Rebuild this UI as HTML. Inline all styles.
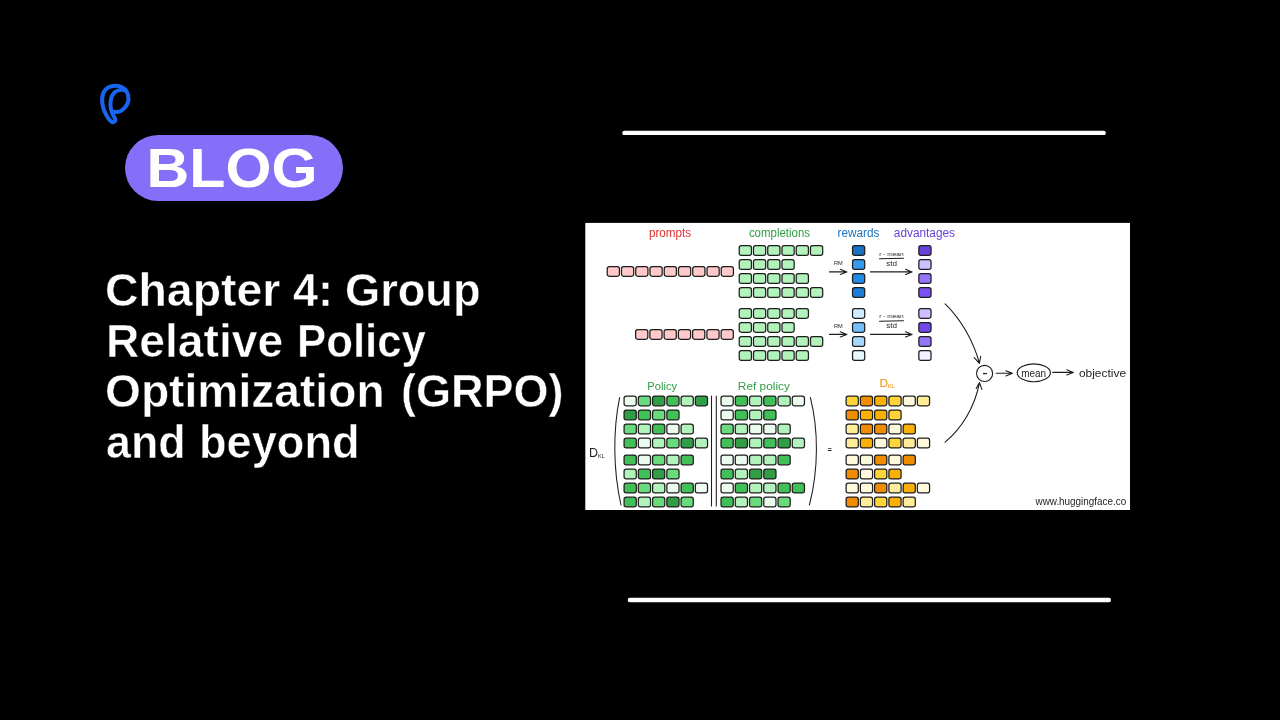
<!DOCTYPE html>
<html lang="en">
<head>
<meta charset="utf-8">
<title>Chapter 4: Group Relative Policy Optimization (GRPO) and beyond</title>
<style>
html,body{margin:0;padding:0;}
body{width:1280px;height:720px;background:#000;overflow:hidden;position:relative;font-family:"Liberation Sans",sans-serif;}
.dia{position:absolute;left:0;top:0;will-change:transform;}
.logo{position:absolute;left:93px;top:76px;}
.pill{position:absolute;left:124.8px;top:134.8px;width:218px;height:65.8px;border-radius:33px;background:#856ef8;}
.pill span{position:absolute;left:0;top:0;width:100%;text-align:center;color:#fff;font-weight:bold;font-size:54.6px;line-height:65.8px;white-space:nowrap;transform:scaleX(1.083);top:1.5px;left:-1.6px;will-change:transform;}
.hl{margin:0;will-change:transform;position:absolute;left:0;top:0;width:600px;height:500px;font-size:46px;line-height:50px;font-weight:bold;color:#fff;}
.w{position:absolute;white-space:nowrap;transform-origin:0 0;-webkit-text-stroke:0.5px #000;}
</style>
</head>
<body>
<svg class="logo" width="40" height="50" viewBox="0 0 40 50">
<path d="M21.2 35.7 C25 36.5 28 35.5 30.3 33.2 C33.5 30 35.5 27 35.5 23.2 C35.5 20 35 17.5 33.7 15.7 C31 11.5 26 9.6 21.6 9.8 C13 10.5 9.1 16 9.1 23.2 C9.1 29 10.5 34 13.25 39 C14.8 41.8 16 43.8 18.1 45.5 C20.9 47.1 23.2 45 21.9 42.3 C20 39.5 18.5 36 17.8 32.3 C17.3 29.5 17.3 27 17.8 24 C18.8 19 21.5 15.5 25.3 14.4 C28 13.5 30.5 13.5 33 15" fill="none" stroke="#1766f1" stroke-width="4" stroke-linecap="round" stroke-linejoin="round"/>
</svg>
<div class="pill"><span>BLOG</span></div>
<h1 class="hl">
<span class="w" style="left:105.2px;top:265.0px;transform:scaleX(1.0088)">Chapter</span>
<span class="w" style="left:293.1px;top:265.0px;transform:scaleX(0.9806)">4:</span>
<span class="w" style="left:345.1px;top:265.0px;transform:scaleX(0.9825)">Group</span>
<span class="w" style="left:106.0px;top:315.6px;transform:scaleX(1.0035)">Relative</span>
<span class="w" style="left:297.4px;top:315.6px;transform:scaleX(0.9515)">Policy</span>
<span class="w" style="left:105.2px;top:366.0px;transform:scaleX(1.0038)">Optimization</span>
<span class="w" style="left:400.5px;top:366.0px;transform:scaleX(0.9784)">(GRPO)</span>
<span class="w" style="left:106.2px;top:416.9px;transform:scaleX(0.9731)">and</span>
<span class="w" style="left:199.0px;top:416.9px;transform:scaleX(0.9816)">beyond</span>
</h1>
<svg class="dia" width="1280" height="720" viewBox="0 0 1280 720"><rect x="585.3" y="222.9" width="544.7" height="287.1" fill="#fff" stroke="none"/>
<g stroke="#fff" stroke-width="4.35" stroke-linecap="round"><path d="M624.4 132.93 H1103.7"/><path d="M629.9 600 H1108.9"/></g>
<g stroke="#1e1e1e" stroke-width="1.25"><rect x="607.23" y="266.52" width="12.2" height="9.75" rx="2.15" fill="#ffc9c9"/><rect x="621.48" y="266.52" width="12.2" height="9.75" rx="2.15" fill="#ffc9c9"/><rect x="635.73" y="266.52" width="12.2" height="9.75" rx="2.15" fill="#ffc9c9"/><rect x="649.98" y="266.52" width="12.2" height="9.75" rx="2.15" fill="#ffc9c9"/><rect x="664.23" y="266.52" width="12.2" height="9.75" rx="2.15" fill="#ffc9c9"/><rect x="678.48" y="266.52" width="12.2" height="9.75" rx="2.15" fill="#ffc9c9"/><rect x="692.73" y="266.52" width="12.2" height="9.75" rx="2.15" fill="#ffc9c9"/><rect x="706.98" y="266.52" width="12.2" height="9.75" rx="2.15" fill="#ffc9c9"/><rect x="721.23" y="266.52" width="12.2" height="9.75" rx="2.15" fill="#ffc9c9"/><rect x="635.62" y="329.52" width="12.2" height="9.75" rx="2.15" fill="#ffc9c9"/><rect x="649.88" y="329.52" width="12.2" height="9.75" rx="2.15" fill="#ffc9c9"/><rect x="664.12" y="329.52" width="12.2" height="9.75" rx="2.15" fill="#ffc9c9"/><rect x="678.38" y="329.52" width="12.2" height="9.75" rx="2.15" fill="#ffc9c9"/><rect x="692.62" y="329.52" width="12.2" height="9.75" rx="2.15" fill="#ffc9c9"/><rect x="706.88" y="329.52" width="12.2" height="9.75" rx="2.15" fill="#ffc9c9"/><rect x="721.12" y="329.52" width="12.2" height="9.75" rx="2.15" fill="#ffc9c9"/><rect x="739.23" y="245.62" width="12.2" height="9.75" rx="2.15" fill="#b2f2bb"/><rect x="753.48" y="245.62" width="12.2" height="9.75" rx="2.15" fill="#b2f2bb"/><rect x="767.73" y="245.62" width="12.2" height="9.75" rx="2.15" fill="#b2f2bb"/><rect x="781.98" y="245.62" width="12.2" height="9.75" rx="2.15" fill="#b2f2bb"/><rect x="796.23" y="245.62" width="12.2" height="9.75" rx="2.15" fill="#b2f2bb"/><rect x="810.48" y="245.62" width="12.2" height="9.75" rx="2.15" fill="#b2f2bb"/><rect x="739.23" y="259.62" width="12.2" height="9.75" rx="2.15" fill="#b2f2bb"/><rect x="753.48" y="259.62" width="12.2" height="9.75" rx="2.15" fill="#b2f2bb"/><rect x="767.73" y="259.62" width="12.2" height="9.75" rx="2.15" fill="#b2f2bb"/><rect x="781.98" y="259.62" width="12.2" height="9.75" rx="2.15" fill="#b2f2bb"/><rect x="739.23" y="273.73" width="12.2" height="9.75" rx="2.15" fill="#b2f2bb"/><rect x="753.48" y="273.73" width="12.2" height="9.75" rx="2.15" fill="#b2f2bb"/><rect x="767.73" y="273.73" width="12.2" height="9.75" rx="2.15" fill="#b2f2bb"/><rect x="781.98" y="273.73" width="12.2" height="9.75" rx="2.15" fill="#b2f2bb"/><rect x="796.23" y="273.73" width="12.2" height="9.75" rx="2.15" fill="#b2f2bb"/><rect x="739.23" y="287.73" width="12.2" height="9.75" rx="2.15" fill="#b2f2bb"/><rect x="753.48" y="287.73" width="12.2" height="9.75" rx="2.15" fill="#b2f2bb"/><rect x="767.73" y="287.73" width="12.2" height="9.75" rx="2.15" fill="#b2f2bb"/><rect x="781.98" y="287.73" width="12.2" height="9.75" rx="2.15" fill="#b2f2bb"/><rect x="796.23" y="287.73" width="12.2" height="9.75" rx="2.15" fill="#b2f2bb"/><rect x="810.48" y="287.73" width="12.2" height="9.75" rx="2.15" fill="#b2f2bb"/><rect x="739.23" y="308.52" width="12.2" height="9.75" rx="2.15" fill="#b2f2bb"/><rect x="753.48" y="308.52" width="12.2" height="9.75" rx="2.15" fill="#b2f2bb"/><rect x="767.73" y="308.52" width="12.2" height="9.75" rx="2.15" fill="#b2f2bb"/><rect x="781.98" y="308.52" width="12.2" height="9.75" rx="2.15" fill="#b2f2bb"/><rect x="796.23" y="308.52" width="12.2" height="9.75" rx="2.15" fill="#b2f2bb"/><rect x="739.23" y="322.52" width="12.2" height="9.75" rx="2.15" fill="#b2f2bb"/><rect x="753.48" y="322.52" width="12.2" height="9.75" rx="2.15" fill="#b2f2bb"/><rect x="767.73" y="322.52" width="12.2" height="9.75" rx="2.15" fill="#b2f2bb"/><rect x="781.98" y="322.52" width="12.2" height="9.75" rx="2.15" fill="#b2f2bb"/><rect x="739.23" y="336.62" width="12.2" height="9.75" rx="2.15" fill="#b2f2bb"/><rect x="753.48" y="336.62" width="12.2" height="9.75" rx="2.15" fill="#b2f2bb"/><rect x="767.73" y="336.62" width="12.2" height="9.75" rx="2.15" fill="#b2f2bb"/><rect x="781.98" y="336.62" width="12.2" height="9.75" rx="2.15" fill="#b2f2bb"/><rect x="796.23" y="336.62" width="12.2" height="9.75" rx="2.15" fill="#b2f2bb"/><rect x="810.48" y="336.62" width="12.2" height="9.75" rx="2.15" fill="#b2f2bb"/><rect x="739.23" y="350.73" width="12.2" height="9.75" rx="2.15" fill="#b2f2bb"/><rect x="753.48" y="350.73" width="12.2" height="9.75" rx="2.15" fill="#b2f2bb"/><rect x="767.73" y="350.73" width="12.2" height="9.75" rx="2.15" fill="#b2f2bb"/><rect x="781.98" y="350.73" width="12.2" height="9.75" rx="2.15" fill="#b2f2bb"/><rect x="796.23" y="350.73" width="12.2" height="9.75" rx="2.15" fill="#b2f2bb"/><rect x="852.52" y="245.62" width="12.2" height="9.75" rx="2.15" fill="#1971c2"/><rect x="918.83" y="245.62" width="12.2" height="9.75" rx="2.15" fill="#6741d9"/><rect x="852.52" y="259.62" width="12.2" height="9.75" rx="2.15" fill="#339af0"/><rect x="918.83" y="259.62" width="12.2" height="9.75" rx="2.15" fill="#d0bfff"/><rect x="852.52" y="273.73" width="12.2" height="9.75" rx="2.15" fill="#228be6"/><rect x="918.83" y="273.73" width="12.2" height="9.75" rx="2.15" fill="#9775fa"/><rect x="852.52" y="287.73" width="12.2" height="9.75" rx="2.15" fill="#1c7ed6"/><rect x="918.83" y="287.73" width="12.2" height="9.75" rx="2.15" fill="#7950f2"/><rect x="852.52" y="308.52" width="12.2" height="9.75" rx="2.15" fill="#d0ebff"/><rect x="918.83" y="308.52" width="12.2" height="9.75" rx="2.15" fill="#d0bfff"/><rect x="852.52" y="322.52" width="12.2" height="9.75" rx="2.15" fill="#74c0fc"/><rect x="918.83" y="322.52" width="12.2" height="9.75" rx="2.15" fill="#7048e8"/><rect x="852.52" y="336.62" width="12.2" height="9.75" rx="2.15" fill="#a5d8ff"/><rect x="918.83" y="336.62" width="12.2" height="9.75" rx="2.15" fill="#9775fa"/><rect x="852.52" y="350.73" width="12.2" height="9.75" rx="2.15" fill="#e7f5ff"/><rect x="918.83" y="350.73" width="12.2" height="9.75" rx="2.15" fill="#f3f0ff"/><rect x="624.08" y="396.02" width="12.2" height="9.75" rx="2.15" fill="#ebfbee"/><rect x="638.33" y="396.02" width="12.2" height="9.75" rx="2.15" fill="#69db7c"/><rect x="652.58" y="396.02" width="12.2" height="9.75" rx="2.15" fill="#2f9e44"/><rect x="666.83" y="396.02" width="12.2" height="9.75" rx="2.15" fill="#40c057"/><rect x="681.08" y="396.02" width="12.2" height="9.75" rx="2.15" fill="#b2f2bb"/><rect x="695.33" y="396.02" width="12.2" height="9.75" rx="2.15" fill="#2f9e44"/><rect x="721.02" y="396.02" width="12.2" height="9.75" rx="2.15" fill="#ebfbee"/><rect x="735.27" y="396.02" width="12.2" height="9.75" rx="2.15" fill="#40c057"/><rect x="749.52" y="396.02" width="12.2" height="9.75" rx="2.15" fill="#b2f2bb"/><rect x="763.77" y="396.02" width="12.2" height="9.75" rx="2.15" fill="#40c057"/><rect x="778.02" y="396.02" width="12.2" height="9.75" rx="2.15" fill="#b2f2bb"/><rect x="792.27" y="396.02" width="12.2" height="9.75" rx="2.15" fill="#ebfbee"/><rect x="846.12" y="396.02" width="12.2" height="9.75" rx="2.15" fill="#ffd43b"/><rect x="860.38" y="396.02" width="12.2" height="9.75" rx="2.15" fill="#f08c00"/><rect x="874.62" y="396.02" width="12.2" height="9.75" rx="2.15" fill="#fab005"/><rect x="888.88" y="396.02" width="12.2" height="9.75" rx="2.15" fill="#ffd43b"/><rect x="903.12" y="396.02" width="12.2" height="9.75" rx="2.15" fill="#fff9db"/><rect x="917.38" y="396.02" width="12.2" height="9.75" rx="2.15" fill="#ffec99"/><rect x="624.08" y="410.07" width="12.2" height="9.75" rx="2.15" fill="#2f9e44"/><rect x="638.33" y="410.07" width="12.2" height="9.75" rx="2.15" fill="#40c057"/><rect x="652.58" y="410.07" width="12.2" height="9.75" rx="2.15" fill="#69db7c"/><rect x="666.83" y="410.07" width="12.2" height="9.75" rx="2.15" fill="#40c057"/><rect x="721.02" y="410.07" width="12.2" height="9.75" rx="2.15" fill="#ebfbee"/><rect x="735.27" y="410.07" width="12.2" height="9.75" rx="2.15" fill="#40c057"/><rect x="749.52" y="410.07" width="12.2" height="9.75" rx="2.15" fill="#b2f2bb"/><rect x="763.77" y="410.07" width="12.2" height="9.75" rx="2.15" fill="#40c057"/><rect x="846.12" y="410.07" width="12.2" height="9.75" rx="2.15" fill="#f08c00"/><rect x="860.38" y="410.07" width="12.2" height="9.75" rx="2.15" fill="#fab005"/><rect x="874.62" y="410.07" width="12.2" height="9.75" rx="2.15" fill="#fab005"/><rect x="888.88" y="410.07" width="12.2" height="9.75" rx="2.15" fill="#ffd43b"/><rect x="624.08" y="424.12" width="12.2" height="9.75" rx="2.15" fill="#69db7c"/><rect x="638.33" y="424.12" width="12.2" height="9.75" rx="2.15" fill="#b2f2bb"/><rect x="652.58" y="424.12" width="12.2" height="9.75" rx="2.15" fill="#40c057"/><rect x="666.83" y="424.12" width="12.2" height="9.75" rx="2.15" fill="#ebfbee"/><rect x="681.08" y="424.12" width="12.2" height="9.75" rx="2.15" fill="#b2f2bb"/><rect x="721.02" y="424.12" width="12.2" height="9.75" rx="2.15" fill="#69db7c"/><rect x="735.27" y="424.12" width="12.2" height="9.75" rx="2.15" fill="#b2f2bb"/><rect x="749.52" y="424.12" width="12.2" height="9.75" rx="2.15" fill="#ebfbee"/><rect x="763.77" y="424.12" width="12.2" height="9.75" rx="2.15" fill="#ebfbee"/><rect x="778.02" y="424.12" width="12.2" height="9.75" rx="2.15" fill="#b2f2bb"/><rect x="846.12" y="424.12" width="12.2" height="9.75" rx="2.15" fill="#ffec99"/><rect x="860.38" y="424.12" width="12.2" height="9.75" rx="2.15" fill="#f08c00"/><rect x="874.62" y="424.12" width="12.2" height="9.75" rx="2.15" fill="#f08c00"/><rect x="888.88" y="424.12" width="12.2" height="9.75" rx="2.15" fill="#fff9db"/><rect x="903.12" y="424.12" width="12.2" height="9.75" rx="2.15" fill="#fab005"/><rect x="624.08" y="438.18" width="12.2" height="9.75" rx="2.15" fill="#40c057"/><rect x="638.33" y="438.18" width="12.2" height="9.75" rx="2.15" fill="#ebfbee"/><rect x="652.58" y="438.18" width="12.2" height="9.75" rx="2.15" fill="#b2f2bb"/><rect x="666.83" y="438.18" width="12.2" height="9.75" rx="2.15" fill="#69db7c"/><rect x="681.08" y="438.18" width="12.2" height="9.75" rx="2.15" fill="#2f9e44"/><rect x="695.33" y="438.18" width="12.2" height="9.75" rx="2.15" fill="#b2f2bb"/><rect x="721.02" y="438.18" width="12.2" height="9.75" rx="2.15" fill="#40c057"/><rect x="735.27" y="438.18" width="12.2" height="9.75" rx="2.15" fill="#2f9e44"/><rect x="749.52" y="438.18" width="12.2" height="9.75" rx="2.15" fill="#b2f2bb"/><rect x="763.77" y="438.18" width="12.2" height="9.75" rx="2.15" fill="#40c057"/><rect x="778.02" y="438.18" width="12.2" height="9.75" rx="2.15" fill="#2f9e44"/><rect x="792.27" y="438.18" width="12.2" height="9.75" rx="2.15" fill="#b2f2bb"/><rect x="846.12" y="438.18" width="12.2" height="9.75" rx="2.15" fill="#ffec99"/><rect x="860.38" y="438.18" width="12.2" height="9.75" rx="2.15" fill="#fab005"/><rect x="874.62" y="438.18" width="12.2" height="9.75" rx="2.15" fill="#fff9db"/><rect x="888.88" y="438.18" width="12.2" height="9.75" rx="2.15" fill="#ffd43b"/><rect x="903.12" y="438.18" width="12.2" height="9.75" rx="2.15" fill="#ffec99"/><rect x="917.38" y="438.18" width="12.2" height="9.75" rx="2.15" fill="#fff9db"/><rect x="624.08" y="455.12" width="12.2" height="9.75" rx="2.15" fill="#40c057"/><rect x="638.33" y="455.12" width="12.2" height="9.75" rx="2.15" fill="#ebfbee"/><rect x="652.58" y="455.12" width="12.2" height="9.75" rx="2.15" fill="#69db7c"/><rect x="666.83" y="455.12" width="12.2" height="9.75" rx="2.15" fill="#b2f2bb"/><rect x="681.08" y="455.12" width="12.2" height="9.75" rx="2.15" fill="#40c057"/><rect x="721.02" y="455.12" width="12.2" height="9.75" rx="2.15" fill="#ebfbee"/><rect x="735.27" y="455.12" width="12.2" height="9.75" rx="2.15" fill="#ebfbee"/><rect x="749.52" y="455.12" width="12.2" height="9.75" rx="2.15" fill="#b2f2bb"/><rect x="763.77" y="455.12" width="12.2" height="9.75" rx="2.15" fill="#b2f2bb"/><rect x="778.02" y="455.12" width="12.2" height="9.75" rx="2.15" fill="#40c057"/><rect x="846.12" y="455.12" width="12.2" height="9.75" rx="2.15" fill="#fff9db"/><rect x="860.38" y="455.12" width="12.2" height="9.75" rx="2.15" fill="#fff9db"/><rect x="874.62" y="455.12" width="12.2" height="9.75" rx="2.15" fill="#f08c00"/><rect x="888.88" y="455.12" width="12.2" height="9.75" rx="2.15" fill="#fff9db"/><rect x="903.12" y="455.12" width="12.2" height="9.75" rx="2.15" fill="#f08c00"/><rect x="624.08" y="469.18" width="12.2" height="9.75" rx="2.15" fill="#b2f2bb"/><rect x="638.33" y="469.18" width="12.2" height="9.75" rx="2.15" fill="#40c057"/><rect x="652.58" y="469.18" width="12.2" height="9.75" rx="2.15" fill="#2f9e44"/><rect x="666.83" y="469.18" width="12.2" height="9.75" rx="2.15" fill="#69db7c"/><rect x="721.02" y="469.18" width="12.2" height="9.75" rx="2.15" fill="#40c057"/><rect x="735.27" y="469.18" width="12.2" height="9.75" rx="2.15" fill="#b2f2bb"/><rect x="749.52" y="469.18" width="12.2" height="9.75" rx="2.15" fill="#2f9e44"/><rect x="763.77" y="469.18" width="12.2" height="9.75" rx="2.15" fill="#2f9e44"/><rect x="846.12" y="469.18" width="12.2" height="9.75" rx="2.15" fill="#f08c00"/><rect x="860.38" y="469.18" width="12.2" height="9.75" rx="2.15" fill="#fff9db"/><rect x="874.62" y="469.18" width="12.2" height="9.75" rx="2.15" fill="#ffd43b"/><rect x="888.88" y="469.18" width="12.2" height="9.75" rx="2.15" fill="#fab005"/><rect x="624.08" y="483.23" width="12.2" height="9.75" rx="2.15" fill="#40c057"/><rect x="638.33" y="483.23" width="12.2" height="9.75" rx="2.15" fill="#69db7c"/><rect x="652.58" y="483.23" width="12.2" height="9.75" rx="2.15" fill="#b2f2bb"/><rect x="666.83" y="483.23" width="12.2" height="9.75" rx="2.15" fill="#ebfbee"/><rect x="681.08" y="483.23" width="12.2" height="9.75" rx="2.15" fill="#40c057"/><rect x="695.33" y="483.23" width="12.2" height="9.75" rx="2.15" fill="#ebfbee"/><rect x="721.02" y="483.23" width="12.2" height="9.75" rx="2.15" fill="#ebfbee"/><rect x="735.27" y="483.23" width="12.2" height="9.75" rx="2.15" fill="#40c057"/><rect x="749.52" y="483.23" width="12.2" height="9.75" rx="2.15" fill="#b2f2bb"/><rect x="763.77" y="483.23" width="12.2" height="9.75" rx="2.15" fill="#b2f2bb"/><rect x="778.02" y="483.23" width="12.2" height="9.75" rx="2.15" fill="#40c057"/><rect x="792.27" y="483.23" width="12.2" height="9.75" rx="2.15" fill="#40c057"/><rect x="846.12" y="483.23" width="12.2" height="9.75" rx="2.15" fill="#fff9db"/><rect x="860.38" y="483.23" width="12.2" height="9.75" rx="2.15" fill="#fff9db"/><rect x="874.62" y="483.23" width="12.2" height="9.75" rx="2.15" fill="#f08c00"/><rect x="888.88" y="483.23" width="12.2" height="9.75" rx="2.15" fill="#ffec99"/><rect x="903.12" y="483.23" width="12.2" height="9.75" rx="2.15" fill="#fab005"/><rect x="917.38" y="483.23" width="12.2" height="9.75" rx="2.15" fill="#fff9db"/><rect x="624.08" y="497.23" width="12.2" height="9.75" rx="2.15" fill="#40c057"/><rect x="638.33" y="497.23" width="12.2" height="9.75" rx="2.15" fill="#b2f2bb"/><rect x="652.58" y="497.23" width="12.2" height="9.75" rx="2.15" fill="#69db7c"/><rect x="666.83" y="497.23" width="12.2" height="9.75" rx="2.15" fill="#2f9e44"/><rect x="681.08" y="497.23" width="12.2" height="9.75" rx="2.15" fill="#69db7c"/><rect x="721.02" y="497.23" width="12.2" height="9.75" rx="2.15" fill="#40c057"/><rect x="735.27" y="497.23" width="12.2" height="9.75" rx="2.15" fill="#b2f2bb"/><rect x="749.52" y="497.23" width="12.2" height="9.75" rx="2.15" fill="#69db7c"/><rect x="763.77" y="497.23" width="12.2" height="9.75" rx="2.15" fill="#ebfbee"/><rect x="778.02" y="497.23" width="12.2" height="9.75" rx="2.15" fill="#69db7c"/><rect x="846.12" y="497.23" width="12.2" height="9.75" rx="2.15" fill="#f08c00"/><rect x="860.38" y="497.23" width="12.2" height="9.75" rx="2.15" fill="#ffec99"/><rect x="874.62" y="497.23" width="12.2" height="9.75" rx="2.15" fill="#ffd43b"/><rect x="888.88" y="497.23" width="12.2" height="9.75" rx="2.15" fill="#fab005"/><rect x="903.12" y="497.23" width="12.2" height="9.75" rx="2.15" fill="#ffec99"/></g>
<g font-family="'Liberation Sans',sans-serif"><text x="648.9" y="236.6" font-size="12" fill="#e03131" textLength="42.2" lengthAdjust="spacingAndGlyphs" >prompts</text><text x="748.9" y="236.6" font-size="12" fill="#2f9e44" textLength="61.1" lengthAdjust="spacingAndGlyphs" >completions</text><text x="837.5" y="236.6" font-size="12" fill="#1971c2" textLength="41.8" lengthAdjust="spacingAndGlyphs" >rewards</text><text x="893.8" y="236.6" font-size="12" fill="#6741d9" textLength="61.2" lengthAdjust="spacingAndGlyphs" >advantages</text><text x="647.3" y="390.3" font-size="11" fill="#2f9e44" textLength="29.8" lengthAdjust="spacingAndGlyphs" >Policy</text><text x="737.8" y="390.3" font-size="11" fill="#2f9e44" textLength="52.2" lengthAdjust="spacingAndGlyphs" >Ref policy</text><text x="879.5" y="387.0" font-size="11.8" fill="#f08c00">D<tspan font-size="5.5" dy="0.8">KL</tspan></text><text x="589.0" y="456.8" font-size="12.5" fill="#1e1e1e">D<tspan font-size="5.5" dy="0.8">KL</tspan></text><text x="829.6" y="452.0" font-size="7.5" fill="#1e1e1e" text-anchor="middle" font-weight="bold">=</text><text x="834.0" y="265.4" font-size="5.4" fill="#1e1e1e" textLength="8.8" lengthAdjust="spacingAndGlyphs" >RM</text><text x="879.2" y="255.6" font-size="5.4" fill="#1e1e1e" textLength="24.4" lengthAdjust="spacingAndGlyphs" >r - mean</text><text x="886.2" y="265.8" font-size="6.4" fill="#1e1e1e" textLength="10.8" lengthAdjust="spacingAndGlyphs" >std</text><text x="834.0" y="328.0" font-size="5.4" fill="#1e1e1e" textLength="8.8" lengthAdjust="spacingAndGlyphs" >RM</text><text x="879.2" y="318.2" font-size="5.4" fill="#1e1e1e" textLength="24.4" lengthAdjust="spacingAndGlyphs" >r - mean</text><text x="886.2" y="328.40000000000003" font-size="6.4" fill="#1e1e1e" textLength="10.8" lengthAdjust="spacingAndGlyphs" >std</text><text x="984.8" y="377.9" font-size="16" fill="#1e1e1e" text-anchor="middle" >-</text><text x="1021.2" y="376.5" font-size="10" fill="#1e1e1e" textLength="24.9" lengthAdjust="spacingAndGlyphs" >mean</text><text x="1078.9" y="376.7" font-size="11.2" fill="#1e1e1e" textLength="47.2" lengthAdjust="spacingAndGlyphs" >objective</text><text x="1035.5" y="504.7" font-size="10.6" fill="#1e1e1e" textLength="90.7" lengthAdjust="spacingAndGlyphs" >www.huggingface.co</text></g>
<g fill="none" stroke="#1e1e1e" stroke-linecap="round" stroke-linejoin="round"><g stroke-width="1.1"><path d="M829.5 271.9 L846.8 271.9 M840.3 269.3 L846.8 271.9 L840.3 274.5"/><path d="M870.5 271.9 L912.0 271.9 M905.5 269.3 L912.0 271.9 L905.5 274.5"/><path d="M879.5 258.8 L903.5 258.3"/><path d="M829.5 334.4 L846.8 334.4 M840.3 331.8 L846.8 334.4 L840.3 337.0"/><path d="M870.5 334.4 L912.0 334.4 M905.5 331.8 L912.0 334.4 L905.5 337.0"/><path d="M879.5 321.3 L903.5 320.8"/><path d="M996.2 373.3 L1012.4 373.3 M1005.9 370.7 L1012.4 373.3 L1005.9 375.9"/><path d="M1052.7 372.4 L1073.3 372.4 M1066.8 369.8 L1073.3 372.4 L1066.8 375.0"/><circle cx="984.6" cy="373.4" r="8.05"/><ellipse cx="1033.8" cy="372.8" rx="16.6" ry="8.9"/><path d="M945.1 303.8 C960 318 973.3 340.5 979.4 363.3 M974.2 357.6 L979.4 363.3 L980.7 356.4"/><path d="M945.1 442.2 C961 429 974.6 408 979.5 382.6 M976.2 388.6 L979.5 382.6 L981.9 389.4"/></g><g stroke-width="1.05"><path d="M619.6 397.6 C613 430 613 470 621 505"/><path d="M810.4 397.6 C818.6 430 818.6 470 809.4 505"/><path d="M711.5 396 L711.5 506 M716.3 396 L716.3 506"/></g></g></svg>
</body>
</html>
